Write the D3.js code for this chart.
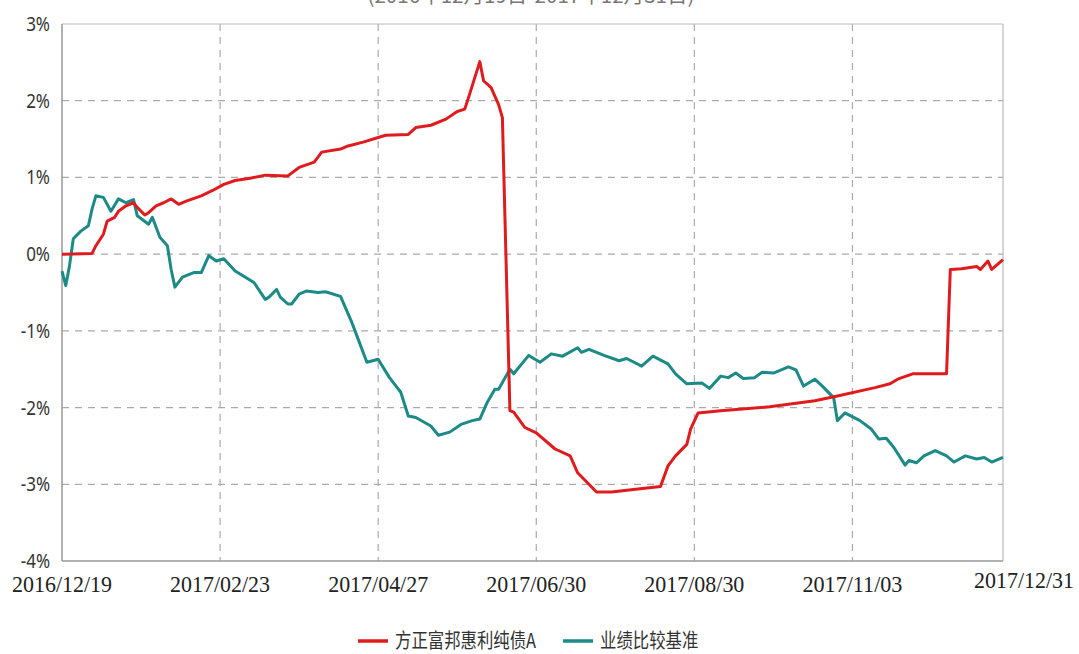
<!DOCTYPE html>
<html>
<head>
<meta charset="utf-8">
<script src="https://cdn.jsdelivr.net/npm/d3@7"></script>
<style>
  body { margin: 0; background: #fff; }
  svg { display: block; }
</style>
</head>
<body>
<svg width="1079" height="654"></svg>
<script>
// trading-day index (0 = 2016/12/19, 250 = 2017/12/31) and return in %
var fundDays = [0, 8, 9, 11, 12, 14, 15, 17, 19, 20, 22, 23, 25, 27, 29, 31, 33, 37, 40, 43, 46, 50, 54, 60, 63, 67, 69, 74, 76, 80,
  84, 86, 92, 94, 98, 102, 105, 107, 108, 111, 112, 114, 115, 116, 117, 119, 120, 123, 126, 131, 135, 137, 140, 142, 146, 153, 159,
  161, 163, 166, 167, 169, 175, 188, 200, 206, 216, 220, 222, 226, 235, 236, 239, 243, 244, 246, 247, 250];
var fundRet = [0, 0.01, 0.11, 0.26, 0.43, 0.48, 0.56, 0.63, 0.67, 0.61, 0.51, 0.54, 0.63, 0.67, 0.72, 0.65, 0.69, 0.76, 0.83, 0.91,
  0.96, 0.99, 1.03, 1.02, 1.13, 1.20, 1.33, 1.37, 1.41, 1.46, 1.52, 1.55, 1.56, 1.65, 1.68, 1.76, 1.86, 1.89, 2.04, 2.51, 2.26, 2.17,
  2.06, 1.95, 1.78, -2.04, -2.06, -2.26, -2.33, -2.54, -2.63, -2.85, -3.00, -3.10, -3.10, -3.06, -3.03, -2.76, -2.63, -2.48, -2.28,
  -2.07, -2.04, -1.99, -1.91, -1.85, -1.74, -1.69, -1.63, -1.56, -1.56, -0.20, -0.19, -0.16, -0.20, -0.09, -0.20, -0.07];

var benchDays = [0, 1, 2, 3, 5, 7, 8, 9, 11, 13, 15, 17, 19, 20, 23, 24, 26, 28, 29, 30, 32, 35, 37, 39, 41, 43, 46, 51, 54, 55, 57,
  58, 60, 61, 63, 65, 68, 70, 74, 77, 78, 81, 84, 87, 90, 92, 94, 98, 100, 103, 106, 109, 111, 113, 115, 116, 119, 120, 124, 127,
  130, 133, 137, 138, 140, 144, 148, 150, 154, 157, 161, 163, 166, 170, 172, 175, 177, 179, 181, 184, 186, 189, 193, 195, 197, 200,
  202, 205, 206, 208, 212, 215, 217, 219, 221, 224, 225, 227, 229, 232, 235, 237, 240, 243, 245, 247, 250];
var benchRet = [-0.22, -0.41, -0.15, 0.20, 0.30, 0.37, 0.59, 0.76, 0.74, 0.56, 0.72, 0.67, 0.71, 0.50, 0.39, 0.48, 0.22, 0.11, -0.20,
  -0.43, -0.30, -0.24, -0.24, -0.02, -0.09, -0.06, -0.22, -0.37, -0.59, -0.56, -0.46, -0.56, -0.65, -0.65, -0.52, -0.48, -0.50, -0.49,
  -0.55, -0.89, -1.02, -1.41, -1.37, -1.61, -1.80, -2.11, -2.13, -2.24, -2.36, -2.32, -2.22, -2.17, -2.15, -1.93, -1.76, -1.76, -1.50,
  -1.56, -1.32, -1.41, -1.30, -1.33, -1.22, -1.28, -1.24, -1.32, -1.39, -1.36, -1.46, -1.33, -1.43, -1.56, -1.69, -1.68, -1.75, -1.59,
  -1.61, -1.55, -1.62, -1.61, -1.54, -1.55, -1.47, -1.51, -1.72, -1.63, -1.72, -1.87, -2.17, -2.07, -2.17, -2.28, -2.41, -2.40, -2.52,
  -2.75, -2.69, -2.72, -2.63, -2.56, -2.63, -2.71, -2.63, -2.67, -2.65, -2.71, -2.65];

var tickDays = [0, 42, 84, 126, 168, 210, 250];
var tickLabels = ["2016/12/19", "2017/02/23", "2017/04/27", "2017/06/30", "2017/08/30", "2017/11/03", "2017/12/31"];
var yTicks = [-4, -3, -2, -1, 0, 1, 2, 3];
var seriesNames = ["方正富邦惠利纯债A", "业绩比较基准"];
var seriesColors = ["#e01b1d", "#1c8a87"];

function main() {
  var svg = d3.select("svg");
  var pLeft = 62, pRight = 1003, pTop = 24, pBottom = 561;

  var x = d3.scaleLinear().domain([0, 250]).range([pLeft, pRight]);
  var y = d3.scaleLinear().domain([-4, 3]).range([pBottom, pTop]);

  // title, mostly cut off at the top
  svg.append("text")
    .attr("x", 531).attr("y", 3)
    .attr("text-anchor", "middle")
    .attr("textLength", 327).attr("lengthAdjust", "spacingAndGlyphs")
    .style("font-family", "Noto Sans CJK SC").style("font-size", "20px").style("fill", "#777")
    .text("(2016年12月19日-2017年12月31日)");

  // grid
  var grid = svg.append("g");
  grid.selectAll(".hg").data(yTicks.filter(function(d) { return d > -4 && d < 3; }))
    .enter().append("line")
    .attr("x1", pLeft).attr("x2", pRight)
    .attr("y1", function(d) { return y(d); }).attr("y2", function(d) { return y(d); })
    .attr("stroke", "#aaa").attr("stroke-width", 1.2).attr("stroke-dasharray", "7,6");
  grid.selectAll(".vg").data(tickDays.slice(1, 6))
    .enter().append("line")
    .attr("x1", function(d) { return x(d); }).attr("x2", function(d) { return x(d); })
    .attr("y1", pTop).attr("y2", pBottom)
    .attr("stroke", "#aaa").attr("stroke-width", 1.2).attr("stroke-dasharray", "7,6");

  // frame
  svg.append("line").attr("x1", pLeft).attr("x2", pRight).attr("y1", pTop).attr("y2", pTop).attr("stroke", "#bbb").attr("stroke-width", 1.2);
  svg.append("line").attr("x1", pRight).attr("x2", pRight).attr("y1", pTop).attr("y2", pBottom).attr("stroke", "#bbb").attr("stroke-width", 1.2);
  svg.append("line").attr("x1", pLeft).attr("x2", pRight).attr("y1", pBottom).attr("y2", pBottom).attr("stroke", "#999").attr("stroke-width", 1.5);
  svg.append("line").attr("x1", pLeft).attr("x2", pLeft).attr("y1", pTop).attr("y2", pBottom).attr("stroke", "#999").attr("stroke-width", 1.5);

  // y labels
  svg.selectAll(".yl").data(yTicks).enter().append("text")
    .attr("transform", function(d) { return "translate(50," + (y(d) + 7) + ") scale(0.85,1)"; })
    .attr("text-anchor", "end")
    .style("font-family", "Noto Sans").style("font-size", "20px").style("fill", "#333")
    .text(function(d) { return d + "%"; });

  // x labels
  svg.selectAll(".xl").data(tickDays).enter().append("text")
    .attr("x", function(d, i) { return i == 6 ? 1074 : x(d); })
    .attr("y", function(d, i) { return i == 6 ? 588 : 592; })
    .attr("text-anchor", function(d, i) { return i == 6 ? "end" : "middle"; })
    .attr("textLength", 100).attr("lengthAdjust", "spacingAndGlyphs")
    .style("font-family", "Liberation Serif").style("font-size", "24px").style("fill", "#222")
    .text(function(d, i) { return tickLabels[i]; });

  // lines
  var line = d3.line().x(function(d) { return x(d[0]); }).y(function(d) { return y(d[1]); });
  var benchData = benchDays.map(function(d, i) { return [d, benchRet[i]]; });
  var fundData = fundDays.map(function(d, i) { return [d, fundRet[i]]; });

  svg.append("path").datum(benchData).attr("d", line)
    .attr("fill", "none").attr("stroke", seriesColors[1]).attr("stroke-width", 3).attr("stroke-linejoin", "round");
  svg.append("path").datum(fundData).attr("d", line)
    .attr("fill", "none").attr("stroke", seriesColors[0]).attr("stroke-width", 3).attr("stroke-linejoin", "round");

  // legend
  var legX = [358, 563];
  var leg = svg.selectAll(".leg").data(seriesNames).enter().append("g");
  leg.append("line")
    .attr("x1", function(d, i) { return legX[i]; }).attr("x2", function(d, i) { return legX[i] + 30; })
    .attr("y1", 641).attr("y2", 641)
    .attr("stroke", function(d, i) { return seriesColors[i]; }).attr("stroke-width", 3.5);
  leg.append("text")
    .attr("transform", function(d, i) { return "translate(" + (legX[i] + 37) + ",648) scale(0.82,1)"; })
    .style("font-family", "Noto Sans CJK SC").style("font-size", "20px").style("fill", "#333")
    .text(function(d) { return d; });
}

main();
</script>
</body>
</html>
